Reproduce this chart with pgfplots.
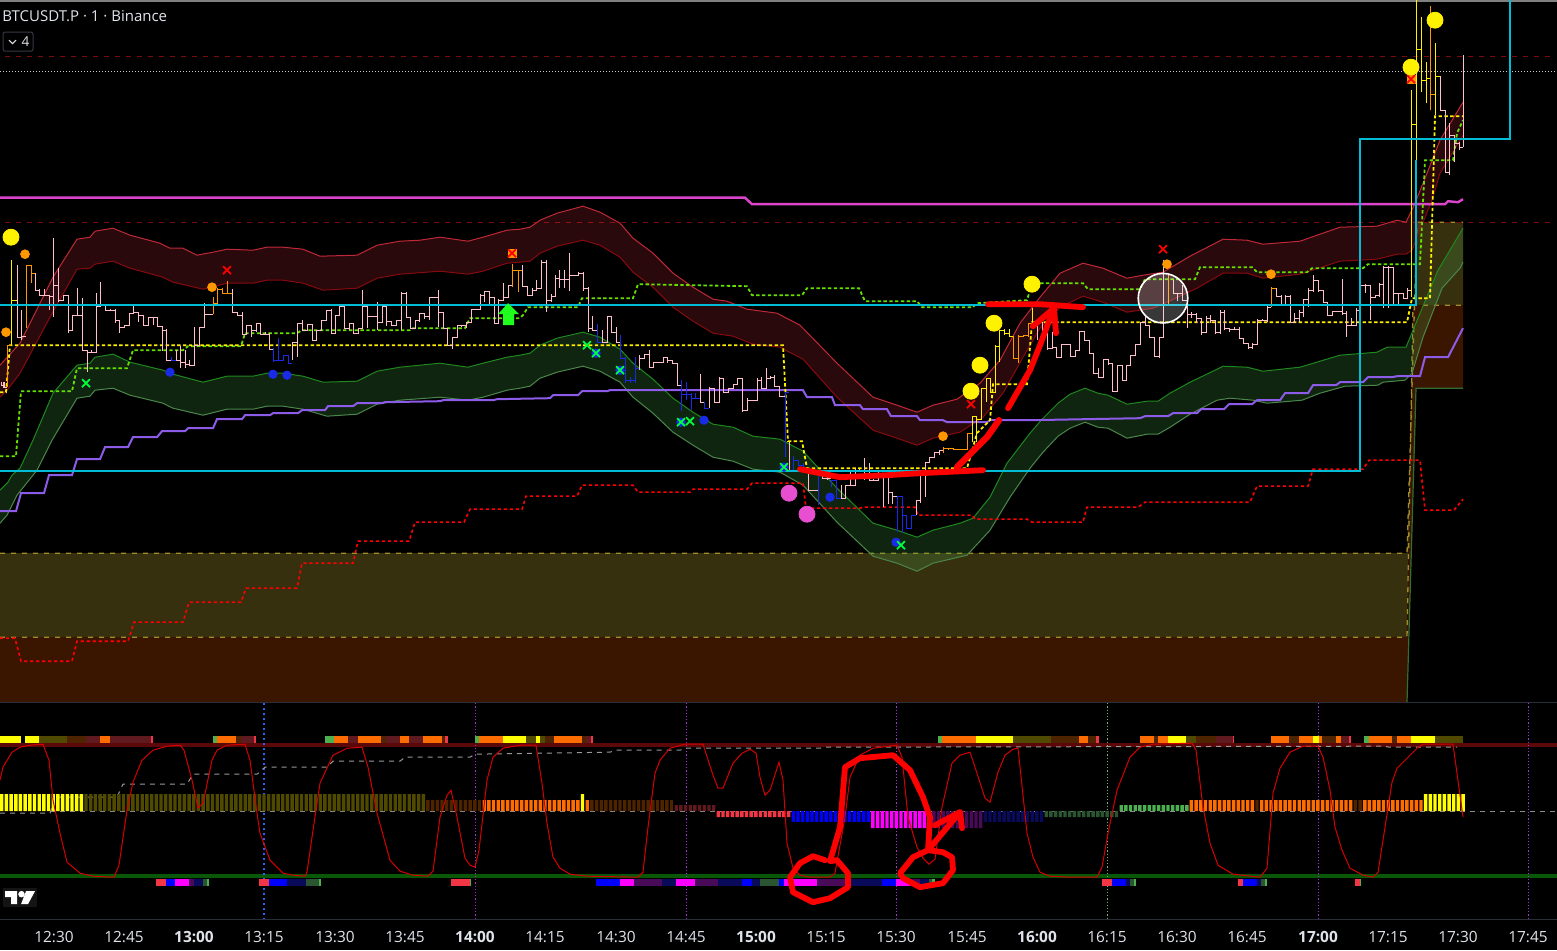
\documentclass[border=0pt]{standalone}
\usepackage{fontspec}
\setmainfont{Open Sans}
\usepackage{pgfplots}
\pgfplotsset{compat=1.18}

\definecolor{cPink}{HTML}{FFC0CB}
\definecolor{cBlue}{HTML}{1A2BE8}
\definecolor{cOrange}{HTML}{FF9800}
\definecolor{cYellow}{HTML}{FFF000}
\definecolor{cLime}{HTML}{66E000}
\definecolor{cCyan}{HTML}{00BCD4}
\definecolor{cMag}{HTML}{DD44CC}
\definecolor{cViolet}{HTML}{8C5CE8}
\definecolor{hYel}{HTML}{FFFF00}
\definecolor{hOli}{HTML}{504A00}
\definecolor{hBro}{HTML}{4D2300}
\definecolor{hOra}{HTML}{FF6D00}
\definecolor{hDkr}{HTML}{5E1A1E}
\definecolor{hRed}{HTML}{F23645}
\definecolor{hBlu}{HTML}{0000FF}
\definecolor{hMag}{HTML}{FF00FF}
\definecolor{hPur}{HTML}{4A0A5A}
\definecolor{hNav}{HTML}{0A0A5A}
\definecolor{hDkg}{HTML}{2A5530}
\definecolor{hGre}{HTML}{4CAF50}
\definecolor{cTxt}{HTML}{E0E3EA}
\definecolor{cOliv}{HTML}{A08C28}

% one run of same-coloured bars, each row: x close top bottom
\newcommand{\candles}[2]{\addplot[const plot, mark=none, color=#1, line width=.5pt,
    error bars/.cd, y dir=both, y explicit, error mark=none,
    error bar style={line width=.5pt, color=#1, solid}]
  table[header=false, x index=0, y index=1, row sep=\\,
    y error plus expr=\thisrowno{3}-\thisrowno{1},
    y error minus expr=\thisrowno{1}-\thisrowno{2}] {#2};}

\pgfplotsset{
  lime dash/.style={color=cLime, line width=.9pt, dash pattern=on 1.7pt off 1.2pt},
  yel dash/.style={color=cYellow, line width=.9pt, dash pattern=on 1.7pt off 1.2pt},
  red dash/.style={color=red, line width=.8pt, dash pattern=on 1.6pt off 1.4pt},
  olive dash/.style={color=cOliv, line width=.65pt, dash pattern=on 2.5pt off 3pt},
  dots/.style={only marks, mark=*, mark size=#1},
  hist/.style={ybar, bar width=1.7pt, bar shift=0pt, draw=none, fill=#1},
  strip/.style={color=#1, line width=3.35pt},
  scrawl/.style={color=red, line width=2.9pt, line cap=round, line join=round},
}

\begin{document}
\begin{tikzpicture}
\begin{axis}[
  scale only axis, width=778.5pt, height=475pt,
  xmin=0, xmax=1557, ymin=0, ymax=950, y dir=reverse,
  axis background/.style={fill=black}, axis line style={draw=none},
  xtick=\empty, ytick=\empty, unbounded coords=jump,
]
% zones
\addplot[fill={rgb,255:red,55;green,48;blue,15}, draw=none] coordinates {(0,553)(1407,553)(1417,222)(1463,222)(1463,305)(1413,305)(1407,637)(0,637)} --cycle;
\addplot[fill={rgb,255:red,58;green,22;blue,0}, draw=none] coordinates {(0,637)(1407,637)(1413,305)(1463,305)(1463,388)(1416,388)(1407,702)(0,702)} --cycle;
\addplot[olive dash] coordinates {(0,553)(1407,553)(1417,222)(1463,222)};
\addplot[olive dash] coordinates {(0,637)(1407,637)(1413,305)(1463,305)};
\addplot[color={rgb,255:red,50;green,110;blue,50}, line width=.6pt] coordinates {(1407,702)(1416,388)(1463,388)};

% level lines
\addplot[color={rgb,255:red,125;green,10;blue,10}, line width=.5pt, dash pattern=on 2.5pt off 3pt] coordinates {(5,56.5)(1553,56.5)};
\addplot[color={rgb,255:red,125;green,10;blue,10}, line width=.5pt, dash pattern=on 2.5pt off 3pt] coordinates {(5,222.5)(1553,222.5)};
\addplot[color=white!80!black, line width=.5pt, dash pattern=on .5pt off 1pt] coordinates {(0,71.5)(1557,71.5)};
\addplot[color=gray, line width=1pt] coordinates {(0,1)(1557,1)};

% red band
\addplot[fill={rgb,255:red,242;green,54;blue,69}, fill opacity=.175, draw=none] coordinates {
(0,365)(20,343)(53,277)(77,239)(90,237)(95,231)(113,228)(130,235)(160,243)(170,248)(183,248)(197,255)(213,252)(227,249)(253,250)(267,247)(283,247)(303,249)(320,256)(357,255)(377,245)(400,241)(420,240)(440,237)(468,241)(483,237)(507,230)(520,229)
(530,227)(540,220)(557,213)(583,206)(600,212)(620,223)(633,238)(653,253)(673,273)(693,287)(713,299)(727,301)(747,309)(777,313)(800,325)(837,363)(873,397)(897,405)(917,412)(933,405)(957,399)(980,383)(1000,360)(1020,323)(1040,297)
(1060,273)(1083,263)(1103,268)(1127,278)(1143,275)(1163,272)(1190,256)(1223,239)(1247,240)(1263,244)(1300,241)(1340,227)(1377,226)(1397,220)(1406,222)(1415,203)(1427,173)(1440,140)(1463,102)
(1463,135)(1440,173)(1432,200)(1412,250)(1406,254)(1397,254)(1377,259)(1340,261)(1300,274)(1263,278)(1247,273)(1223,273)(1197,288)(1167,302)(1153,308)(1127,312)(1103,302)(1083,296)(1060,307)(1040,328)(1023,357)(1003,393)(983,417)(960,432)(933,438)(917,445)(897,438)(873,430)(837,397)(803,359)(780,347)(753,344)(733,336)(713,333)(693,321)(673,307)(653,287)(633,272)(620,257)(600,245)(583,240)(557,246)(540,253)(530,261)(520,262)(507,263)(483,271)(468,274)(440,271)(400,274)(377,278)(357,288)(323,290)(303,283)(283,280)(267,280)(253,283)(227,283)(203,289)(173,282)(163,277)(130,268)(113,261)(95,264)(90,268)(77,269)(50,317)(20,373)(7,390)(0,397)} --cycle;
\addplot[color={rgb,255:red,190;green,40;blue,55}, line width=.5pt] coordinates {
(0,365)(20,343)(53,277)(77,239)(90,237)(95,231)(113,228)(130,235)(160,243)(170,248)(183,248)(197,255)(213,252)(227,249)(253,250)(267,247)(283,247)(303,249)(320,256)(357,255)(377,245)(400,241)(420,240)(440,237)(468,241)(483,237)(507,230)(520,229)
(530,227)(540,220)(557,213)(583,206)(600,212)(620,223)(633,238)(653,253)(673,273)(693,287)(713,299)(727,301)(747,309)(777,313)(800,325)(837,363)(873,397)(897,405)(917,412)(933,405)(957,399)(980,383)(1000,360)(1020,323)(1040,297)
(1060,273)(1083,263)(1103,268)(1127,278)(1143,275)(1163,272)(1190,256)(1223,239)(1247,240)(1263,244)(1300,241)(1340,227)(1377,226)(1397,220)(1406,222)(1415,203)(1427,173)(1440,140)(1463,102)};
\addplot[color={rgb,255:red,135;green,10;blue,15}, line width=.5pt] coordinates {
(0,397)(7,390)(20,373)(50,317)(77,269)(90,268)(95,264)(113,261)(130,268)(163,277)(173,282)(203,289)(227,283)(253,283)(267,280)(283,280)(303,283)(323,290)(357,288)(377,278)(400,274)(440,271)(468,274)(483,271)(507,263)(520,262)
(530,261)(540,253)(557,246)(583,240)(600,245)(620,257)(633,272)(653,287)(673,307)(693,321)(713,333)(733,336)(753,344)(780,347)(803,359)(837,397)(873,430)(897,438)(917,445)(933,438)(960,432)(983,417)(1003,393)(1023,357)(1040,328)
(1060,307)(1083,296)(1103,302)(1127,312)(1153,308)(1167,302)(1197,288)(1223,273)(1247,273)(1263,278)(1300,274)(1340,261)(1377,259)(1397,254)(1406,254)(1412,250)(1432,200)(1440,173)(1463,135)};

% green band
\addplot[fill={rgb,255:red,76;green,175;blue,80}, fill opacity=.21, draw=none] coordinates {
(0,490)(8,482)(12,475)(20,468)(33,440)(53,393)(77,365)(90,363)(95,357)(113,354)(130,362)(163,370)(173,374)(203,382)(227,376)(253,376)(267,373)(283,373)(303,376)(323,382)(357,381)(377,371)(400,367)(440,363)(468,367)(483,363)(507,357)(520,355)
(530,353)(540,345)(557,338)(583,332)(600,337)(620,349)(633,363)(653,379)(673,398)(693,412)(713,424)(733,427)(753,436)(780,439)(803,451)(837,488)(873,523)(897,530)(917,537)(933,530)(960,523)(973,518)(990,497)(1007,463)(1030,433)
(1043,418)(1058,403)(1070,394)(1085,388)(1098,393)(1108,395)(1127,404)(1147,401)(1158,401)(1170,393)(1190,382)(1215,370)(1223,366)(1247,367)(1263,371)(1300,367)(1340,355)(1377,352)(1387,347)(1406,347)(1413,330)(1438,270)(1457,238)(1463,228)
(1463,262)(1460,268)(1442,288)(1423,337)(1412,373)(1405,380)(1383,382)(1378,385)(1345,386)(1320,393)(1302,400)(1267,403)(1253,400)(1230,398)(1217,400)(1190,414)(1170,427)(1158,434)(1147,434)(1127,438)(1108,428)(1098,427)(1085,422)(1070,428)(1058,436)(1043,452)(1030,468)(1010,497)(990,530)(967,555)(933,563)(917,571)(897,563)(873,556)(837,522)(803,485)(780,472)(753,469)(733,461)(713,457)(693,445)(673,432)(653,413)(633,397)(620,382)(600,371)(583,366)(557,372)(540,378)(530,386)(520,388)(507,390)(483,397)(468,400)(440,397)(400,400)(377,404)(357,414)(327,416)(303,409)(283,406)(267,406)(253,409)(227,409)(203,415)(173,408)(163,403)(130,395)(113,388)(95,390)(90,396)(77,398)(52,440)(37,470)(17,495)(7,515)(0,523)} --cycle;
\addplot[color={rgb,255:red,30;green,135;blue,30}, line width=.5pt] coordinates {
(0,490)(8,482)(12,475)(20,468)(33,440)(53,393)(77,365)(90,363)(95,357)(113,354)(130,362)(163,370)(173,374)(203,382)(227,376)(253,376)(267,373)(283,373)(303,376)(323,382)(357,381)(377,371)(400,367)(440,363)(468,367)(483,363)(507,357)(520,355)
(530,353)(540,345)(557,338)(583,332)(600,337)(620,349)(633,363)(653,379)(673,398)(693,412)(713,424)(733,427)(753,436)(780,439)(803,451)(837,488)(873,523)(897,530)(917,537)(933,530)(960,523)(973,518)(990,497)(1007,463)(1030,433)
(1043,418)(1058,403)(1070,394)(1085,388)(1098,393)(1108,395)(1127,404)(1147,401)(1158,401)(1170,393)(1190,382)(1215,370)(1223,366)(1247,367)(1263,371)(1300,367)(1340,355)(1377,352)(1387,347)(1406,347)(1413,330)(1438,270)(1457,238)(1463,228)};
\addplot[color={rgb,255:red,75;green,135;blue,75}, line width=.5pt] coordinates {
(0,523)(7,515)(17,495)(37,470)(52,440)(77,398)(90,396)(95,390)(113,388)(130,395)(163,403)(173,408)(203,415)(227,409)(253,409)(267,406)(283,406)(303,409)(327,416)(357,414)(377,404)(400,400)(440,397)(468,400)(483,397)(507,390)(520,388)
(530,386)(540,378)(557,372)(583,366)(600,371)(620,382)(633,397)(653,413)(673,432)(693,445)(713,457)(733,461)(753,469)(780,472)(803,485)(837,522)(873,556)(897,563)(917,571)(933,563)(967,555)(990,530)(1010,497)(1030,468)
(1043,452)(1058,436)(1070,428)(1085,422)(1098,427)(1108,428)(1127,438)(1147,434)(1158,434)(1170,427)(1190,414)(1217,400)(1230,398)(1253,400)(1267,403)(1302,400)(1320,393)(1345,386)(1378,385)(1383,382)(1405,380)(1412,373)(1423,337)(1442,288)(1460,268)(1463,262)};

% stepped lines
\addplot[color=cMag, line width=1.2pt] coordinates {(0,197.5)(745,197.5)(752,204)(1445,204)(1448,201)(1458,202)(1463,199)};
\addplot[color=cViolet, line width=1pt] coordinates {(0,511)(16,511)(21,493)(44,493)(49,475)(72,475)(77,459)(100,459)(105,447)(128,447)(133,437)(157,437)(162,431)(185,431)(188,428)(213,428)(217,419)(242,419)(245,415)(270,415)(273,413)(298,413)(302,410)(325,410)(328,406)(353,406)(357,403)(382,403)(385,402)(440,401)(443,400)(493,400)(497,399)(550,398)(553,395)(578,395)(582,391)(607,391)(610,390)(803,390)(807,397)(832,397)(835,405)(860,405)(863,409)(887,409)(891,416)(917,416)(920,420)(943,420)(947,422)(987,422)(990,420)(1030,420)(1140,418)(1145,416)(1168,416)(1173,413)(1197,413)(1201,409)(1224,409)(1229,404)(1252,404)(1257,400)(1280,400)(1285,393)(1308,393)(1313,385)(1336,385)(1340,382)(1363,382)(1368,377)(1392,377)(1397,376)(1420,376)(1425,357)(1448,357)(1463,328)};
\addplot[lime dash] coordinates {(0,456)(16,456)(21,391)(72,391)(77,368)(127,368)(133,350)(183,350)(188,346)(241,346)(245,333)(297,333)(302,330)(410,330)(413,328)(465,328)(470,318)(520,318)(523,315)(528,307)(578,307)(582,298)(633,298)(638,284)(747,286)(752,295)(802,295)(807,288)(859,288)(865,301)(917,301)(922,307)(973,307)(977,303)(1027,300)(1032,283)(1083,283)(1088,289)(1140,289)(1145,279)(1195,279)(1200,267)(1252,267)(1257,272)(1307,272)(1312,268)(1363,268)(1368,264)(1420,264)(1425,160)(1453,160)(1457,133)(1463,120)};
\addplot[yel dash] coordinates {(0,392)(6,392)(10,345)(783,345)(788,441)(802,441)(807,468)(967,468)(977,433)(990,420)(993,384)(1027,384)(1032,322)(1407,322)(1412,298)(1430,298)(1435,116)(1463,116)};
\addplot[red dash] coordinates {(0,638)(15,638)(21,661)(72,661)(77,641)(128,641)(134,622)(183,622)(189,602)(241,602)(246,588)(297,588)(302,563)(353,563)(358,541)(409,541)(415,522)(464,522)(470,509)(522,509)(526,496)(577,496)(582,485)(633,485)(638,492)(690,492)(693,489)(747,489)(752,483)(803,483)(806,508)(860,508)(863,507)(915,507)(918,515)(972,515)(975,519)(1027,519)(1032,522)(1083,522)(1087,507)(1138,507)(1145,502)(1250,502)(1257,486)(1308,486)(1313,469)(1363,469)(1369,460)(1420,460)(1425,510)(1454,510)(1463,499)};

% bars
\candles{cPink}{1 385 382 385\\4 387 382 387\\7 387 387 387\\}
\candles{cOrange}{7 345 345 387\\11 345 345 345\\}
\candles{cYellow}{11 300 260 345\\17 300 300 300\\}
\candles{cPink}{17 337 265 337\\21 336 310 340\\26 336 336 336\\}
\candles{cOrange}{26 265 265 328\\31 273 265 283\\35 273 273 273\\}
\candles{cPink}{35 290 273 290\\39 295 289 295\\44 295 289 296\\49 296 295 310\\53 285 238 317\\58 300 268 302\\63 295 295 300\\68 330 295 333\\72 315 315 328\\77 315 288 315\\82 350 298 350\\87 352 350 372\\91 352 350 353\\96 306 293 349\\100 305 282 307\\105 310 305 310\\110 310 309 310\\115 320 309 323\\119 327 320 333\\124 325 325 326\\129 313 313 326\\133 312 306 313\\138 315 312 322\\143 325 315 325\\148 317 317 325\\153 317 317 325\\157 326 317 326\\162 330 327 351\\166 360 329 360\\171 360 360 360\\}
\candles{cBlue}{171 360 357 361\\176 360 360 360\\}
\candles{cPink}{176 360 350 360\\180 362 346 368\\185 364 350 368\\189 365 360 365\\194 345 327 366\\199 327 327 345\\204 314 303 327\\208 314 314 314\\213 314 314 314\\}
\candles{cOrange}{213 303 297 314\\217 289 288 302\\222 293 288 293\\227 293 281 293\\232 293 293 293\\}
\candles{cPink}{232 312 289 312\\237 315 312 315\\242 334 312 334\\246 325 325 333\\251 330 328 337\\256 323 323 332\\260 334 334 334\\265 334 332 334\\269 349 333 350\\273 349 349 349\\}
\candles{cBlue}{273 360 348 362\\278 360 338 360\\283 355 355 360\\288 363 357 363\\292 363 363 363\\}
\candles{cPink}{292 342 342 360\\297 323 323 357\\302 330 320 330\\307 324 324 330\\312 340 324 341\\316 330 330 341\\321 320 320 328\\326 310 310 320\\331 333 309 332\\335 315 315 330\\339 306 306 315\\344 328 308 328\\349 323 323 330\\353 333 327 333\\358 328 328 332\\362 306 290 328\\367 316 306 328\\372 316 316 317\\377 322 302 330\\382 306 306 323\\386 321 321 326\\391 325 325 326\\396 320 320 326\\401 293 292 330\\406 317 292 317\\410 328 318 328\\415 320 320 328\\419 313 313 322\\424 316 315 319\\429 297 297 320\\433 297 297 298\\438 312 290 327\\443 328 312 328\\447 345 328 346\\452 337 337 349\\457 325 326 338\\461 325 325 327\\466 322 322 328\\471 309 309 322\\475 309 309 310\\480 295 294 309\\484 291 291 302\\489 297 297 306\\494 323 297 323\\498 300 299 323\\503 297 283 297\\508 285 285 296\\512 285 285 285\\}
\candles{cOrange}{512 270 264 287\\518 270 270 292\\522 270 270 270\\}
\candles{cPink}{522 286 265 286\\527 295 286 295\\532 290 288 292\\536 288 280 288\\541 262 260 288\\546 300 260 312\\551 296 294 302\\555 278 275 293\\559 279 270 288\\564 279 270 288\\569 275 253 291\\573 275 275 275\\578 273 272 275\\583 288 272 291\\588 328 287 332\\592 330 316 330\\597 330 330 330\\}
\candles{cBlue}{597 342 324 342\\602 342 342 342\\}
\candles{cPink}{602 342 330 342\\607 316 316 332\\611 332 317 332\\616 342 327 342\\620 342 342 342\\}
\candles{cBlue}{620 358 335 358\\625 380 357 383\\630 380 377 383\\635 368 357 383\\639 368 368 368\\}
\candles{cPink}{639 358 355 370\\644 354 354 358\\649 367 350 367\\653 362 362 367\\658 362 362 362\\663 357 357 363\\667 360 360 363\\672 363 360 364\\677 385 363 385\\681 385 385 385\\}
\candles{cBlue}{681 394 380 411\\686 394 382 400\\691 398 393 410\\695 398 393 398\\700 398 398 398\\}
\candles{cPink}{700 402 374 402\\704 402 402 402\\}
\candles{cBlue}{704 408 402 408\\709 408 408 408\\}
\candles{cPink}{709 388 387 408\\714 402 388 402\\719 378 377 402\\723 392 390 393\\728 388 388 393\\733 384 384 388\\737 378 378 384\\742 410 378 412\\747 400 398 410\\752 400 400 400\\757 380 378 400\\761 388 377 388\\766 378 368 378\\770 377 376 377\\774 386 375 387\\779 396 386 397\\785 396 396 396\\}
\candles{cBlue}{785 392 392 457\\789 392 392 392\\}
\candles{cPink}{789 470 442 470\\793 470 470 470\\}
\candles{cBlue}{793 460 456 472\\798 465 460 465\\803 468 463 468\\808 468 468 468\\}
\candles{cPink}{808 490 470 490\\813 490 490 490\\818 490 490 490\\}
\candles{cBlue}{818 470 470 505\\822 470 470 470\\}
\candles{cPink}{822 478 470 478\\827 478 477 480\\831 478 478 478\\}
\candles{cBlue}{831 480 480 487\\836 498 483 498\\841 498 498 498\\}
\candles{cPink}{841 498 485 498\\845 485 485 497\\850 485 470 485\\855 470 469 470\\859 470 469 470\\864 470 458 480\\869 480 463 480\\873 480 479 480\\878 473 472 480\\883 477 477 507\\888 492 492 504\\892 496 496 504\\897 496 496 496\\}
\candles{cBlue}{897 496 496 532\\902 515 515 533\\906 528 515 527\\911 515 515 528\\916 515 515 515\\}
\candles{cPink}{916 500 500 515\\920 473 473 503\\925 462 462 497\\929 457 457 462\\934 452 452 457\\939 450 450 455\\943 450 450 450\\}
\candles{cOrange}{943 448 447 453\\948 448 448 450\\953 449 448 449\\958 449 449 450\\962 449 449 450\\967 433 433 448\\972 433 433 433\\}
\candles{cYellow}{972 416 416 442\\976 419 417 442\\981 388 388 420\\986 378 378 402\\990 392 378 392\\995 346 345 372\\999 330 330 362\\1004 333 329 335\\1009 336 329 337\\1013 336 336 336\\}
\candles{cOrange}{1013 358 336 358\\1018 336 335 363\\1023 335 335 336\\1028 323 323 337\\1032 323 323 323\\}
\candles{cYellow}{1032 322 308 322\\1037 322 322 322\\}
\candles{cPink}{1037 322 322 340\\1042 333 322 340\\1047 348 333 350\\1052 347 332 348\\1056 357 350 357\\1061 344 344 357\\1066 344 344 345\\1070 356 344 356\\1075 350 350 355\\1079 331 331 349\\1084 340 331 340\\1089 353 341 353\\1093 373 354 373\\1098 377 368 378\\1103 359 359 375\\1108 363 360 365\\1112 391 363 392\\1117 365 365 387\\1122 380 365 380\\1126 365 365 365\\1130 355 355 365\\1135 344 344 355\\1140 322 322 344\\1145 325 317 325\\1149 337 325 337\\1154 356 337 357\\1159 337 337 358\\1163 305 260 337\\1168 305 305 305\\}
\candles{cOrange}{1168 304 275 304\\1173 304 304 304\\}
\candles{cPink}{1173 293 280 293\\1177 293 293 301\\1182 300 285 300\\1187 314 298 328\\1191 314 312 318\\1196 318 313 323\\1201 332 323 335\\1206 318 316 323\\1210 320 315 323\\1215 332 322 334\\1220 312 310 334\\1224 328 310 330\\1229 329 328 332\\1234 329 327 330\\1239 338 327 339\\1243 343 339 343\\1248 347 343 349\\1252 344 343 349\\1257 320 319 343\\1262 320 319 320\\1267 307 306 322\\1271 307 307 307\\}
\candles{cOrange}{1271 288 287 307\\1276 288 288 288\\}
\candles{cPink}{1276 296 288 297\\1281 305 295 305\\1285 296 295 296\\1290 322 295 323\\1294 318 313 323\\1299 312 310 322\\1303 299 299 317\\1308 290 288 307\\1313 280 275 292\\1318 290 280 292\\1323 302 290 303\\1327 315 302 315\\1332 311 311 311\\1337 311 311 312\\1342 313 279 315\\1346 325 311 337\\1351 325 318 325\\1356 310 308 325\\1360 285 284 313\\1365 285 284 293\\1370 297 297 320\\1375 295 295 297\\1379 284 283 297\\1383 267 266 308\\1388 267 266 308\\1393 293 293 305\\1398 293 293 305\\1403 298 293 298\\1407 290 288 298\\1411 290 290 290\\}
\candles{cYellow}{1411 124 90 297\\1416 49 0 160\\1421 80 17 92\\1426 78 62 103\\1430 78 78 78\\}
\candles{cOrange}{1430 94 6 110\\1435 94 94 94\\}
\candles{cYellow}{1435 76 43 115\\1440 76 76 76\\}
\candles{cPink}{1440 110 76 108\\1445 172 110 173\\1449 135 123 175\\1454 143 135 162\\1459 147 142 150\\1463 147 55 147\\}

% cyan boxes
\addplot[color=cCyan, line width=.8pt] coordinates {(0,305)(1416,305)(1416,160)};
\addplot[color=cCyan, line width=.8pt] coordinates {(0,471)(1360,471)(1360,139)(1510,139)(1510,0)};

% markers
\addplot[dots=4pt, color=yellow] coordinates {(11,237)(1032,284)(994,323)(980,365)(971,391)(1411,67)(1435,20)};
\addplot[dots=4pt, color={rgb,255:red,232;green,79;blue,208}] coordinates {(789,493)(807,514)};
\addplot[dots=2.2pt, color=cOrange] coordinates {(25,254)(6,332)(212,287)(943,436)(1167,264)(1271,274)};
\addplot[dots=2.1pt, color=cBlue] coordinates {(170,372)(273,374)(287,375)(596,353)(620,370)(681,422)(704,420)(784,467)(830,497)(896,542)};
\addplot[only marks, mark=square*, mark size=2pt, color=cOrange] coordinates {(512,253)(1411,79)};
\addplot[only marks, mark=x, mark size=2.8pt, color=red, mark options={line width=.9pt}] coordinates {(227,270)(971,404)(1163,249)(512,253)(1411,79)};
\addplot[only marks, mark=x, mark size=2.8pt, color={rgb,255:red,0;green,255;blue,64}, mark options={line width=.9pt}] coordinates {(86,383)(587,345)(596,353)(620,370)(681,422)(690,421)(784,467)(901,545)};
\addplot[fill={rgb,255:red,30;green,255;blue,30}, draw=none] coordinates {(498,314)(508,303)(519,314)(514,314)(514,325)(503,325)(503,314)} --cycle;
\addplot[only marks, mark=*, mark size=12.4pt, mark options={fill=white, fill opacity=.22, draw=white, draw opacity=1, line width=.8pt}] coordinates {(1163,298)};

% hand drawn strokes
\addplot[scrawl] coordinates {(988,304)(1040,304)(1083,307)};
\addplot[scrawl] coordinates {(1008,408)(1030,370)(1040,345)(1053,310)};
\addplot[scrawl] coordinates {(1033,326)(1054,308)(1056,333)};
\addplot[scrawl] coordinates {(800,469)(840,477)(887,475)(920,473)(983,470)};
\addplot[scrawl, line width=3.2pt] coordinates {(957,467)(987,437)(999,420)};

% header
\node[anchor=west, text=cTxt, font=\fontsize{7.5pt}{9pt}\selectfont, inner sep=0pt] at (axis cs:2,16) {BTCUSDT.P · 1 · Binance};
\draw[color={rgb,255:red,54;green,58;blue,69}, rounded corners=1pt, line width=.5pt] (axis cs:3,32) rectangle (axis cs:33,51);
\addplot[color=cTxt, line width=.5pt] coordinates {(9,40)(12.5,43.5)(16,40)};
\node[text=cTxt, font=\fontsize{6.8pt}{8pt}\selectfont, inner sep=0pt] at (axis cs:25.5,41.5) {4};

% logo
\addplot[fill=white!8!black, draw=none] coordinates {(3,888)(37,888)(37,907)(3,907)} --cycle;
\addplot[fill=white, draw=none] coordinates {(5,891)(17,891)(17,904)(11,904)(11,897)(5,897)} --cycle;
\addplot[dots=1.4pt, color=white] coordinates {(21.5,894)};
\addplot[fill=white, draw=none] coordinates {(26,891)(35,891)(28,904)(21,904)} --cycle;
\end{axis}

% oscillator pane, y measured from the histogram zero line
\begin{axis}[
  scale only axis, width=778.5pt, height=475pt,
  xmin=0, xmax=1557, ymin=-139, ymax=811,
  axis line style={draw=none}, ytick=\empty, major tick length=0pt,
  unbounded coords=jump,
  xtick={54,124,194,264,335,405,475,545,616,686,756,826,896,967,1037,1107,1177,1247,1318,1388,1458,1528},
  xticklabels={12:30,12:45,\textbf{13:00},13:15,13:30,13:45,\textbf{14:00},14:15,14:30,14:45,\textbf{15:00},15:15,15:30,15:45,\textbf{16:00},16:15,16:30,16:45,\textbf{17:00},17:15,17:30,17:45},
  x tick label style={anchor=center, yshift=6.75pt, text=cTxt, font=\fontsize{7.7pt}{9pt}\selectfont},
]
\addplot[color={rgb,255:red,42;green,46;blue,57}, line width=.5pt] coordinates {(0,108.5)(1557,108.5)};
\addplot[color={rgb,255:red,42;green,46;blue,57}, line width=.5pt] coordinates {(0,-108.5)(1557,-108.5)};
\addplot[color={rgb,255:red,92;green,8;blue,8}, line width=1.9pt] coordinates {(0,66)(1557,66)};
\addplot[color={rgb,255:red,8;green,88;blue,8}, line width=1.7pt] coordinates {(0,-65)(1557,-65)};
% session lines
\addplot[color={rgb,255:red,41;green,98;blue,255}, line width=.75pt, dash pattern=on 1pt off 1.5pt] coordinates {(264,108)(264,-108)};
\addplot[color={rgb,255:red,170;green,50;blue,210}, line width=.5pt, dash pattern=on .6pt off 1pt] coordinates {(475,108)(475,-108)};
\addplot[color={rgb,255:red,170;green,50;blue,210}, line width=.5pt, dash pattern=on .6pt off 1pt] coordinates {(686,108)(686,-108)};
\addplot[color={rgb,255:red,170;green,50;blue,210}, line width=.5pt, dash pattern=on .6pt off 1pt] coordinates {(896,108)(896,-108)};
\addplot[color={rgb,255:red,110;green,180;blue,110}, line width=.5pt, dash pattern=on .6pt off 1pt] coordinates {(1107,108)(1107,-108)};
\addplot[color={rgb,255:red,170;green,50;blue,210}, line width=.5pt, dash pattern=on .6pt off 1pt] coordinates {(1318,108)(1318,-108)};
\addplot[color={rgb,255:red,170;green,50;blue,210}, line width=.5pt, dash pattern=on .6pt off 1pt] coordinates {(1528,108)(1528,-108)};
% dashed references
\addplot[color=white!55!black, line width=.5pt, dash pattern=on 2.5pt off 2.5pt] coordinates {(50,0)(1557,0)};
\addplot[color=white!60!black, line width=.5pt, dash pattern=on 2.5pt off 2.5pt] coordinates {(0,-2)(50,-2)(55,14)(117,14)(123,27)(187,27)(193,37)(257,37)(265,44)(327,44)(333,50)(400,50)(405,54)(470,54)(475,57)(610,59)(615,61)(680,61)(685,63)(820,63)(825,64)(1383,65)(1390,64)(1457,64)};

% histogram
\addplot[hist=hYel] coordinates {(1.7,17)(6.4,17)(11.1,17)(15.8,17)(20.4,17)(25.1,17)(29.8,17)(34.5,17)(39.2,17)(43.9,17)(48.5,17)(53.2,17)(57.9,17)(62.6,17)(67.3,17)(72,17)(76.6,17)(81.3,17)(582.5,17)(1425.6,17)(1430.3,17)(1435,17)(1439.7,17)(1444.4,17)(1449.1,17)(1453.7,17)(1458.4,17)(1463.1,17)};
\addplot[hist=hOli] coordinates {(86,17)(90.7,17)(95.4,17)(100.1,17)(104.7,17)(109.4,17)(114.1,17)(118.8,17)(123.5,17)(128.2,17)(132.8,17)(137.5,17)(142.2,17)(146.9,17)(151.6,17)(156.3,17)(161,17)(165.6,17)(170.3,17)(175,17)(179.7,17)(184.4,17)(189.1,17)(193.7,17)(198.4,17)(203.1,17)(207.8,17)(212.5,17)(217.2,17)(221.8,17)(226.5,17)(231.2,17)(235.9,17)(240.6,17)(245.3,17)(249.9,17)(254.6,17)(259.3,17)(264,17)(268.7,17)(273.4,17)(278.1,17)(282.7,17)(287.4,17)(292.1,17)(296.8,17)(301.5,17)(306.2,17)(310.8,17)(315.5,17)(320.2,17)(324.9,17)(329.6,17)(334.3,17)(338.9,17)(343.6,17)(348.3,17)(353,17)(357.7,17)(362.4,17)(367,17)(371.7,17)(376.4,17)(381.1,17)(385.8,17)(390.5,17)(395.2,17)(399.8,17)(404.5,17)(409.2,17)(413.9,17)(418.6,17)(423.3,17)};
\addplot[hist=hBro] coordinates {(427.9,11)(432.6,11)(437.3,11)(442,11)(446.7,11)(451.4,11)(456,11)(460.7,11)(465.4,11)(470.1,11)(474.8,11)(479.5,11)(591.9,11)(596.6,11)(601.3,11)(605.9,11)(610.6,11)(615.3,11)(620,11)(624.7,11)(629.4,11)(634,11)(638.7,11)(643.4,11)(648.1,11)(652.8,11)(657.5,11)(662.1,11)(666.8,11)(671.5,11)(1257,11)(1355.4,11)(1360.1,11)};
\addplot[hist=hOra] coordinates {(484.2,11)(488.8,11)(493.5,11)(498.2,11)(502.9,11)(507.6,11)(512.3,11)(516.9,11)(521.6,11)(526.3,11)(531,11)(535.7,11)(540.4,11)(545,11)(549.7,11)(554.4,11)(559.1,11)(563.8,11)(568.5,11)(573.1,11)(577.8,11)(587.2,11)(1191.4,11)(1196.1,11)(1200.8,11)(1205.5,11)(1210.2,11)(1214.9,11)(1219.6,11)(1224.2,11)(1228.9,11)(1233.6,11)(1238.3,11)(1243,11)(1247.7,11)(1252.3,11)(1261.7,11)(1266.4,11)(1271.1,11)(1275.8,11)(1280.4,11)(1285.1,11)(1289.8,11)(1294.5,11)(1299.2,11)(1303.9,11)(1308.6,11)(1313.2,11)(1317.9,11)(1322.6,11)(1327.3,11)(1332,11)(1336.7,11)(1341.3,11)(1346,11)(1350.7,11)(1364.8,11)(1369.4,11)(1374.1,11)(1378.8,11)(1383.5,11)(1388.2,11)(1392.9,11)(1397.5,11)(1402.2,11)(1406.9,11)(1411.6,11)(1416.3,11)(1421,11)};
\addplot[hist=hDkr] coordinates {(676.2,6)(680.9,6)(685.6,6)(690.2,6)(694.9,6)(699.6,6)(704.3,6)(709,6)(713.7,6)};
\addplot[hist=hRed] coordinates {(718.4,-6)(723,-6)(727.7,-6)(732.4,-6)(737.1,-6)(741.8,-6)(746.5,-6)(751.1,-6)(755.8,-6)(760.5,-6)(765.2,-6)(769.9,-6)(774.6,-6)(779.2,-6)(783.9,-6)(788.6,-6)};
\addplot[hist=hBlu] coordinates {(793.3,-10.6)(798,-10.6)(802.7,-10.6)(807.3,-10.6)(812,-10.6)(816.7,-10.6)(821.4,-10.6)(826.1,-10.6)(830.8,-10.6)(835.5,-10.6)(840.1,-10.6)(844.8,-10.6)(849.5,-10.6)(854.2,-10.6)(858.9,-10.6)(863.6,-10.6)(868.2,-10.6)};
\addplot[hist=hMag] coordinates {(872.9,-17)(877.6,-17)(882.3,-17)(887,-17)(891.7,-17)(896.3,-17)(901,-17)(905.7,-17)(910.4,-17)(915.1,-17)(919.8,-17)(924.4,-17)};
\addplot[hist=hPur] coordinates {(933.8,-17)(938.5,-17)(943.2,-17)(947.9,-17)(952.5,-17)(957.2,-17)(961.9,-17)(966.6,-17)(971.3,-17)(976,-17)(980.7,-17)};
\addplot[hist=hNav] coordinates {(985.3,-10.6)(990,-10.6)(994.7,-10.6)(999.4,-10.6)(1004.1,-10.6)(1008.8,-10.6)(1013.4,-10.6)(1018.1,-10.6)(1022.8,-10.6)(1027.5,-10.6)(1032.2,-10.6)(1036.9,-10.6)(1041.5,-10.6)};
\addplot[hist=hDkg] coordinates {(1046.2,-6)(1050.9,-6)(1055.6,-6)(1060.3,-6)(1065,-6)(1069.7,-6)(1074.3,-6)(1079,-6)(1083.7,-6)(1088.4,-6)(1093.1,-6)(1097.8,-6)(1102.4,-6)(1107.1,-6)(1111.8,-6)(1116.5,-6)};
\addplot[hist=hGre] coordinates {(1121.2,6)(1125.9,6)(1130.5,6)(1135.2,6)(1139.9,6)(1144.6,6)(1149.3,6)(1154,6)(1158.6,6)(1163.3,6)(1168,6)(1172.7,6)(1177.4,6)(1182.1,6)(1186.8,6)};

% heat strip above
\addplot[strip=hYel] coordinates {(0,72)(21,72)(21,nan)(25,72)(39,72)(39,nan)(503,72)(526,72)(526,nan)(536,72)(540,72)(540,nan)(976,72)(1013,72)(1013,nan)(1168,72)(1186,72)(1186,nan)(1313,72)(1319,72)(1319,nan)(1411,72)(1435,72)};
\addplot[strip=hOli] coordinates {(39,72)(67,72)(67,nan)(526,72)(536,72)(536,nan)(540,72)(545,72)(545,nan)(1013,72)(1051,72)(1051,nan)(1186,72)(1196,72)(1196,nan)(1435,72)(1463,72)};
\addplot[strip=hBro] coordinates {(67,72)(86,72)(86,nan)(236,72)(241,72)(241,nan)(381,72)(386,72)(386,nan)(442,72)(445,72)(445,nan)(545,72)(554,72)(554,nan)(582,72)(586,72)(586,nan)(1051,72)(1079,72)(1079,nan)(1088,72)(1096,72)(1096,nan)(1154,72)(1158,72)(1158,nan)(1196,72)(1216,72)(1216,nan)(1289,72)(1299,72)(1299,nan)(1322,72)(1336,72)(1336,nan)(1392,72)(1397,72)};
\addplot[strip=hDkr] coordinates {(86,72)(100,72)(100,nan)(110,72)(151,72)(151,nan)(241,72)(254,72)(254,nan)(348,72)(358,72)(358,nan)(386,72)(400,72)(400,nan)(409,72)(423,72)(423,nan)(586,72)(591,72)(591,nan)(1216,72)(1233,72)(1233,nan)(1341,72)(1349,72)};
\addplot[strip=hOra] coordinates {(100,72)(110,72)(110,nan)(217,72)(236,72)(236,nan)(334,72)(348,72)(348,nan)(358,72)(381,72)(381,nan)(400,72)(409,72)(409,nan)(423,72)(442,72)(442,nan)(479,72)(503,72)(503,nan)(554,72)(582,72)(582,nan)(942,72)(976,72)(976,nan)(1079,72)(1088,72)(1088,nan)(1140,72)(1154,72)(1154,nan)(1158,72)(1168,72)(1168,nan)(1271,72)(1289,72)(1289,nan)(1299,72)(1313,72)(1313,nan)(1319,72)(1322,72)(1322,nan)(1336,72)(1341,72)(1341,nan)(1369,72)(1392,72)(1392,nan)(1397,72)(1411,72)};
\addplot[strip=hRed] coordinates {(151,72)(153,72)(153,nan)(254,72)(256,72)(256,nan)(445,72)(448,72)(448,nan)(591,72)(593,72)(593,nan)(1096,72)(1099,72)(1099,nan)(1233,72)(1234,72)(1234,nan)(1349,72)(1351,72)};
\addplot[strip=hGre] coordinates {(213,72)(217,72)(217,nan)(325,72)(334,72)(334,nan)(475,72)(479,72)(479,nan)(938,72)(942,72)(942,nan)(1364,72)(1369,72)};
% heat strip below
\addplot[strip=hRed] coordinates {(156,-71)(166,-71)(166,nan)(259,-71)(269,-71)(269,nan)(451,-71)(470,-71)(470,nan)(1102,-71)(1112,-71)(1112,nan)(1238,-71)(1243,-71)(1243,nan)(1355,-71)(1360,-71)};
\addplot[strip=hBlu] coordinates {(166,-71)(175,-71)(175,nan)(269,-71)(287,-71)(287,nan)(596,-71)(620,-71)(620,nan)(742,-71)(752,-71)(752,nan)(779,-71)(784,-71)(784,nan)(882,-71)(896,-71)(896,nan)(1112,-71)(1126,-71)(1126,nan)(1243,-71)(1257,-71)};
\addplot[strip=hMag] coordinates {(175,-71)(189,-71)(189,nan)(620,-71)(634,-71)(634,nan)(676,-71)(695,-71)(695,nan)(784,-71)(817,-71)(817,nan)(896,-71)(910,-71)};
\addplot[strip=hPur] coordinates {(189,-71)(194,-71)(194,nan)(634,-71)(662,-71)(662,nan)(695,-71)(718,-71)(718,nan)(817,-71)(850,-71)(850,nan)(910,-71)(920,-71)};
\addplot[strip=hNav] coordinates {(194,-71)(203,-71)(203,nan)(287,-71)(306,-71)(306,nan)(662,-71)(676,-71)(676,nan)(718,-71)(742,-71)(742,nan)(752,-71)(760,-71)(760,nan)(850,-71)(882,-71)(882,nan)(920,-71)(929,-71)(929,nan)(1126,-71)(1130,-71)(1130,nan)(1257,-71)(1261,-71)};
\addplot[strip=hDkg] coordinates {(203,-71)(207,-71)(207,nan)(306,-71)(319,-71)(319,nan)(760,-71)(779,-71)(779,nan)(929,-71)(932,-71)(932,nan)(1130,-71)(1134,-71)(1134,nan)(1261,-71)(1265,-71)};
\addplot[strip=hGre] coordinates {(207,-71)(209,-71)(209,nan)(319,-71)(321,-71)(321,nan)(470,-71)(471,-71)(471,nan)(932,-71)(935,-71)(935,nan)(1134,-71)(1136,-71)(1136,nan)(1265,-71)(1267,-71)(1267,nan)(1360,-71)(1361,-71)};

% oscillator
\addplot[color={rgb,255:red,215;green,0;blue,0}, line width=.5pt] coordinates {
(0,31)(3,44)(12,59)(20,64)(30,66)(43,67)(49,51)(53,11)(60,-22)(67,-51)(80,-62)(93,-65)(114,-66)(119,-54)(127,1)(133,29)(142,51)(153,61)(167,65)(180,66)(184,61)(192,31)(198,3)(203,8)(212,51)(217,61)(227,66)(245,67)(250,51)(257,-2)(260,-22)(270,-49)(283,-62)(293,-64)(305,-65)(307,-61)(313,-19)(320,28)(333,56)(347,63)(362,64)(368,44)(377,-2)(390,-49)(400,-60)(413,-64)(428,-65)(433,-60)(440,-6)(447,16)(451,21)(457,-6)(465,-47)(470,-54)(475,-56)(479,-39)(487,31)(493,54)(503,63)(520,66)
(536,66)(542,28)(547,-12)(553,-46)(560,-57)(570,-63)(587,-65)(638,-66)(643,-61)(648,-16)(655,38)(660,51)(670,63)(685,67)(703,67)(713,36)(718,23)(723,23)(733,48)(742,58)(750,62)(756,58)(760,34)(765,16)(770,21)(779,49)(783,31)(787,-32)(793,-57)(800,-64)(810,-66)(830,-66)(835,-62)(845,-6)(850,34)(860,56)(873,63)(897,66)(902,54)(908,-6)(917,-36)(923,-47)(929,-53)(935,-48)(942,4)(952,48)(960,56)(970,59)(975,44)(985,13)(990,9)(998,39)(1005,56)(1013,62)(1018,63)(1027,-22)(1033,-46)(1040,-61)
(1050,-65)(1070,-66)(1097,-66)(1102,-56)(1108,-22)(1117,21)(1130,54)(1140,64)(1153,67)(1192,68)(1196,61)(1203,4)(1210,-32)(1218,-54)(1233,-63)(1260,-66)(1267,-57)(1273,18)(1280,43)(1290,59)(1303,65)(1318,65)(1323,54)(1330,21)(1335,-16)(1342,-39)(1350,-57)(1363,-64)(1373,-66)(1378,-61)(1392,29)(1397,43)(1417,63)(1423,67)(1453,67)(1463,-6)};

% hand drawn strokes
\addplot[scrawl] coordinates {(825,-49)(813,-45)(800,-52)(790,-66)(793,-81)(813,-91)(830,-87)(848,-76)(848,-62)(837,-49)(830,-50)(840,-16)(845,44)(860,53)(893,56)(910,41)(923,14)(930,-6)(928,-39)(943,-41)(952,-46)(953,-59)(943,-72)(920,-76)(903,-67)(900,-62)(913,-46)(928,-39)(960,-1)};
\addplot[scrawl] coordinates {(935,-14)(960,-1)(962,-17)};
\end{axis}
\end{tikzpicture}
\end{document}
